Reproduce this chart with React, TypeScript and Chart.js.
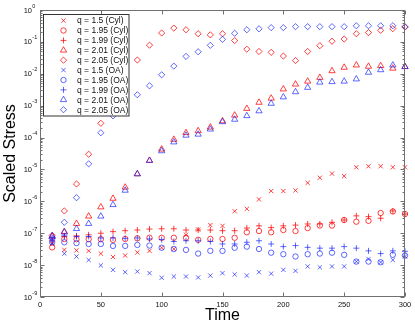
import React, { useEffect, useRef } from 'react';
import { Chart, registerables } from 'chart.js';
import { drawPoint } from 'chart.js/helpers';

Chart.register(...registerables);

const times = [10, 20, 30, 40, 50, 60, 70, 80, 90, 100, 110, 120, 130, 140, 150, 160, 170, 180, 190, 200, 210, 220, 230, 240, 250, 260, 270, 280, 290, 300];

const cylQ150 = [4.6e-8, 3.0e-8, 2.9e-8, 2.8e-8, 2.3e-8, 1.8e-8, 2.0e-8, 2.5e-8, 2.8e-8, 3.5e-8, 3.2e-8, 8.9e-8, 1.3e-7, 1.8e-7, 1.7e-7, 4.9e-7, 5.8e-7, 1.15e-6, 2.1e-6, 2.1e-6, 2.2e-6, 3.8e-6, 5.5e-6, 7.4e-6, 6.2e-6, 1.17e-5, 1.26e-5, 1.26e-5, 1.17e-5, 1.17e-5];
const cylQ195 = [3.6e-8, 6.6e-8, 6.5e-8, 6.5e-8, 6.5e-8, 6.2e-8, 6.6e-8, 6.9e-8, 7.2e-8, 7.2e-8, 7.2e-8, 7.2e-8, 6.2e-8, 6.6e-8, 6.6e-8, 7.2e-8, 1.07e-7, 1.17e-7, 1.07e-7, 1.26e-7, 1.17e-7, 1.45e-7, 1.74e-7, 1.74e-7, 2.6e-7, 2.3e-7, 2.45e-7, 4.3e-7, 4.8e-7, 4.0e-7];
const cylQ199 = [5.8e-8, 7.9e-8, 8.3e-8, 8.9e-8, 1.0e-7, 1.12e-7, 1.2e-7, 1.26e-7, 1.35e-7, 1.38e-7, 1.38e-7, 1.26e-7, 1.26e-7, 1.26e-7, 1.2e-7, 1.2e-7, 1.45e-7, 1.7e-7, 1.5e-7, 1.7e-7, 1.8e-7, 1.95e-7, 1.95e-7, 2.2e-7, 2.6e-7, 3.5e-7, 3.3e-7, 2.95e-7, 5.0e-7, 4.0e-7];
const cylQ201 = [7.9e-8, 1.12e-7, 2.0e-7, 3.4e-7, 6.6e-7, 1.23e-6, 2.75e-6, 7.2e-6, 1.9e-5, 4.3e-5, 8.7e-5, 1.41e-4, 1.62e-4, 2.1e-4, 3.3e-4, 5.0e-4, 8.1e-4, 1.26e-3, 1.7e-3, 3.3e-3, 4.7e-3, 5.8e-3, 7.6e-3, 1.23e-2, 1.58e-2, 1.86e-2, 1.7e-2, 1.78e-2, 1.48e-2, 1.66e-2];
const cylQ205 = [8.5e-8, 5.0e-7, 3.5e-6, 3.0e-5, 2.8e-4, 2.5e-3, 1.0e-2, 2.7e-2, 7.9e-2, 0.19, 0.27, 0.24, 0.18, 0.166, 0.18, 0.11, 5.9e-2, 5.0e-2, 4.7e-2, 3.6e-2, 2.6e-2, 5.0e-2, 7.6e-2, 0.105, 0.123, 0.18, 0.195, 0.23, 0.26, 0.29];
const oaQ150 = [5.0e-8, 2.3e-8, 1.86e-8, 1.45e-8, 9.8e-9, 7.1e-9, 6.0e-9, 6.3e-9, 5.6e-9, 4.0e-9, 4.4e-9, 4.4e-9, 4.1e-9, 4.7e-9, 5.6e-9, 5.1e-9, 4.7e-9, 6.0e-9, 5.4e-9, 7.1e-9, 6.6e-9, 9.1e-9, 8.5e-9, 9.1e-9, 9.1e-9, 1.29e-8, 1.55e-8, 1.23e-8, 1.45e-8, 1.86e-8];
const oaQ195 = [5.2e-8, 5.2e-8, 4.9e-8, 4.6e-8, 4.6e-8, 4.0e-8, 4.0e-8, 4.3e-8, 4.1e-8, 3.5e-8, 3.2e-8, 3.0e-8, 2.3e-8, 2.8e-8, 2.8e-8, 3.5e-8, 3.8e-8, 3.2e-8, 2.45e-8, 2.2e-8, 1.86e-8, 2.2e-8, 2.3e-8, 2.45e-8, 2.1e-8, 1.29e-8, 1.29e-8, 1.23e-8, 2.1e-8, 2.0e-8];
const oaQ199 = [6.6e-8, 8.3e-8, 7.9e-8, 7.9e-8, 7.1e-8, 7.1e-8, 6.9e-8, 7.1e-8, 6.6e-8, 6.3e-8, 5.5e-8, 5.8e-8, 5.8e-8, 5.5e-8, 4.6e-8, 4.6e-8, 5.2e-8, 5.8e-8, 4.6e-8, 3.8e-8, 4.1e-8, 3.6e-8, 3.4e-8, 3.4e-8, 3.8e-8, 3.4e-8, 2.8e-8, 2.3e-8, 2.8e-8, 2.7e-8];
const oaQ201 = [8.3e-8, 1.07e-7, 1.38e-7, 2.0e-7, 3.4e-7, 7.8e-7, 2.2e-6, 7.2e-6, 1.9e-5, 3.8e-5, 7.2e-5, 1.17e-4, 1.26e-4, 1.82e-4, 3.1e-4, 3.7e-4, 4.8e-4, 6.8e-4, 1.17e-3, 1.86e-3, 2.7e-3, 3.7e-3, 5.4e-3, 5.6e-3, 5.8e-3, 6.8e-3, 1.1e-2, 1.32e-2, 1.86e-2, 1.66e-2];
const oaQ205 = [6.9e-8, 2.2e-7, 1.3e-6, 1.5e-5, 1.41e-4, 4.8e-4, 1.0e-3, 2.2e-3, 4.2e-3, 9.3e-3, 1.74e-2, 3.5e-2, 4.9e-2, 7.8e-2, 0.12, 0.186, 0.24, 0.257, 0.28, 0.28, 0.30, 0.30, 0.30, 0.30, 0.30, 0.32, 0.32, 0.32, 0.32, 0.30];

const seriesLabels = [
  'q = 1.5 (Cyl)', 'q = 1.95 (Cyl)', 'q = 1.99 (Cyl)', 'q = 2.01 (Cyl)', 'q = 2.05 (Cyl)',
  'q = 1.5 (OA)', 'q = 1.95 (OA)', 'q = 1.99 (OA)', 'q = 2.01 (OA)', 'q = 2.05 (OA)',
];
const seriesValues = [cylQ150, cylQ195, cylQ199, cylQ201, cylQ205, oaQ150, oaQ195, oaQ199, oaQ201, oaQ205];

const xTickValues = [0, 50, 100, 150, 200, 250, 300];
const yTickExponents = [0, -1, -2, -3, -4, -5, -6, -7, -8, -9];

const RED = 'rgba(255,0,0,0.75)';
const BLUE = 'rgba(10,25,255,0.65)';
const markerStyles = ['crossRot', 'circle', 'cross', 'triangle', 'rectRot'];
const markerRadius: Record<string, number> = { crossRot: 3, circle: 2.7, cross: 3, triangle: 3.6, rectRot: 3.1 };
const FONT = '"Liberation Sans", Arial, Helvetica, sans-serif';

const matlabPlugin = {
  id: 'matlabAxes',
  afterDraw(chart: any) {
    const { ctx, chartArea: a } = chart;
    const xs = chart.scales.x;
    const ys = chart.scales.y;
    ctx.save();
    const L = Math.round(a.left) + 0.5;
    const R = Math.round(a.right) - 0.5;
    const T = Math.round(a.top) + 0.5;
    const B = Math.round(a.bottom) - 0.5;
    ctx.strokeStyle = '#707070';
    ctx.lineWidth = 1;
    ctx.strokeRect(L, T, R - L, B - T);
    ctx.beginPath();
    for (const t of xTickValues) {
      const px = Math.round(xs.getPixelForValue(t)) + 0.5;
      ctx.moveTo(px, B); ctx.lineTo(px, B - 4);
      ctx.moveTo(px, T); ctx.lineTo(px, T + 4);
    }
    for (const k of yTickExponents) {
      const py = Math.round(ys.getPixelForValue(Math.pow(10, k))) + 0.5;
      ctx.moveTo(L, py); ctx.lineTo(L + 4, py);
      ctx.moveTo(R, py); ctx.lineTo(R - 4, py);
      if (k < 0) {
        for (let m = 2; m <= 9; m++) {
          const pm = Math.round(ys.getPixelForValue(m * Math.pow(10, k))) + 0.5;
          ctx.moveTo(L, pm); ctx.lineTo(L + 2, pm);
          ctx.moveTo(R, pm); ctx.lineTo(R - 2, pm);
        }
      }
    }
    ctx.stroke();

    // tick labels
    ctx.fillStyle = '#111';
    ctx.textBaseline = 'middle';
    ctx.font = `7.5px ${FONT}`;
    ctx.textAlign = 'center';
    for (const t of xTickValues) {
      ctx.fillText(String(t), xs.getPixelForValue(t), 304.5);
    }
    for (const k of yTickExponents) {
      const py = ys.getPixelForValue(Math.pow(10, k));
      ctx.font = `7.5px ${FONT}`;
      ctx.textAlign = 'right';
      ctx.fillText('10', 32, py + 0.5);
      ctx.font = `5.5px ${FONT}`;
      ctx.textAlign = 'left';
      ctx.fillText(k === 0 ? '0' : `-${-k}`, 32.3, py - 4);
    }

    // axis titles
    ctx.font = `16px ${FONT}`;
    ctx.textAlign = 'center';
    ctx.fillStyle = '#000';
    ctx.fillText('Time', (a.left + a.right) / 2, 316);
    ctx.save();
    ctx.translate(11, (a.top + a.bottom) / 2);
    ctx.rotate(-Math.PI / 2);
    ctx.fillText('Scaled Stress', 0, 0);
    ctx.restore();

    // legend
    ctx.fillStyle = '#fff';
    ctx.fillRect(43.5, 14.5, 85.5, 101.5);
    ctx.strokeStyle = '#333';
    ctx.strokeRect(43.5, 14.5, 85.5, 101.5);
    ctx.font = `8.5px ${FONT}`;
    ctx.textAlign = 'left';
    seriesLabels.forEach((label, i) => {
      const y = 20.6 + i * 9.9;
      const style = markerStyles[i % 5];
      ctx.strokeStyle = i < 5 ? RED : BLUE;
      ctx.fillStyle = 'rgba(0,0,0,0)';
      ctx.lineWidth = 1;
      drawPoint(ctx, { pointStyle: style, radius: markerRadius[style], rotation: 0, borderWidth: 1 }, 63.5, y);
      ctx.fillStyle = '#111';
      ctx.fillText(label, 77, y + 0.5);
    });
    ctx.restore();
  },
};

export default function App() {
  const canvasRef = useRef<HTMLCanvasElement | null>(null);
  useEffect(() => {
    if (!canvasRef.current) return;
    const datasets = seriesLabels.map((label, i) => {
      const style = markerStyles[i % 5];
      return {
        label,
        data: times.map((t, j) => ({ x: t, y: seriesValues[i][j] })),
        showLine: false,
        pointStyle: style,
        pointRadius: markerRadius[style],
        pointHoverRadius: markerRadius[style],
        pointBorderWidth: 1,
        pointBorderColor: i < 5 ? RED : BLUE,
        pointBackgroundColor: 'rgba(0,0,0,0)',
        clip: false as any,
        order: 10 - i,
      };
    });
    const chart = new Chart(canvasRef.current, {
      type: 'scatter',
      data: { datasets },
      options: {
        animation: false,
        responsive: false,
        events: [],
        layout: { padding: { left: 40, right: 10, top: 10, bottom: 30 } },
        plugins: { legend: { display: false }, tooltip: { enabled: false } },
        scales: {
          x: { type: 'linear', min: 0, max: 300, display: false },
          y: { type: 'logarithmic', min: 1e-9, max: 1, display: false },
        },
      },
      plugins: [matlabPlugin],
    });
    return () => chart.destroy();
  }, []);
  return (
    <div style={{ position: 'fixed', left: 0, top: 0, width: 415, height: 327, background: '#fff' }}>
      <canvas ref={canvasRef} width={415} height={327} style={{ display: 'block' }} />
    </div>
  );
}
